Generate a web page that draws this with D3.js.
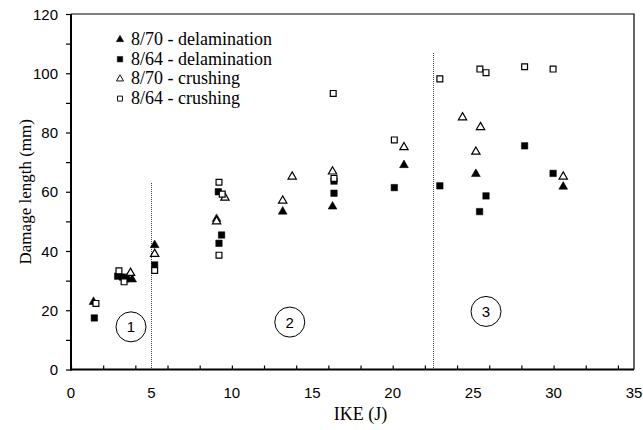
<!DOCTYPE html>
<html>
<head>
<meta charset="utf-8">
<script src="https://cdn.jsdelivr.net/npm/d3@7"></script>
<style>
  body { margin: 0; background: #fff; }
  svg { display: block; }
  .sans { font-family: "Liberation Sans", Arial, sans-serif; }
  .serif { font-family: "Liberation Serif", "Times New Roman", serif; }
</style>
</head>
<body>
<div id="chart-area"></div>
<script>
// DATA (x = IKE in J, y = damage length in mm)
var del70 = [[1.4, 22.8], [3.5, 30.9], [3.8, 30.4], [5.2, 42], [9.05, 50.8], [13.16, 53.3],
             [16.26, 55], [20.7, 69], [25.17, 66], [30.6, 61.7]];
var del64 = [[1.45, 17.4], [2.9, 31.5], [3.2, 31.2], [3.4, 30.6], [5.2, 35.3], [9.16, 60],
             [9.36, 45.4], [9.2, 42.6], [16.35, 63.6], [16.35, 59.5], [20.1, 61.4], [22.93, 62],
             [25.4, 53.3], [25.8, 58.6], [28.2, 75.5], [29.97, 66.2]];
var crush70 = [[3.7, 32.6], [5.2, 39], [9.05, 50], [9.57, 58], [13.16, 57], [13.75, 65.1],
               [16.26, 66.8], [20.7, 75], [24.34, 85.1], [25.17, 73.5], [25.46, 81.8], [30.6, 65.1]];
var crush64 = [[1.55, 22.3], [2.98, 33.3], [3.3, 29.6], [5.2, 33.4], [9.2, 63.2], [9.4, 59.2],
               [9.2, 38.6], [16.35, 64.5], [16.3, 93.2], [20.1, 77.5], [22.93, 98.1], [25.42, 101.4],
               [25.8, 100.2], [28.2, 102.2], [29.97, 101.4]];

var seriesNames = ["8/70 - delamination", "8/64 - delamination", "8/70 - crushing", "8/64 - crushing"];
var xTicks = [0, 5, 10, 15, 20, 25, 30, 35];
var yTicks = [0, 20, 40, 60, 80, 100, 120];

// region boundaries [x, top of line] and region labels [x, y, text]
var boundaries = [[5.0, 63], [22.5, 107]];
var regions = [[3.73, 14.4, "1"], [13.6, 16, "2"], [25.8, 19.6, "3"]];

var margin = { left: 71, right: 9, top: 14, bottom: 60.5 };
var W = 643, H = 430;
var width = W - margin.left - margin.right,
    height = H - margin.top - margin.bottom;

var svg = d3.select("#chart-area")
    .append("svg")
        .attr("width", W)
        .attr("height", H);

var g = svg.append("g")
    .attr("transform", "translate(" + margin.left + "," + margin.top + ")");

// SCALES
var x = d3.scaleLinear().domain([0, 35]).range([0, width]);
var y = d3.scaleLinear().domain([0, 120]).range([height, 0]);

// FRAME (top & right)
g.append("path")
    .attr("d", "M0,0H" + width + "V" + height)
    .attr("fill", "none")
    .attr("stroke", "#000")
    .attr("stroke-width", 1.2);

// DOTTED BOUNDARIES
g.selectAll(".bound")
    .data(boundaries)
    .enter().append("line")
        .attr("x1", function(d) { return Math.round(x(d[0])) + 0.5; })
        .attr("x2", function(d) { return Math.round(x(d[0])) + 0.5; })
        .attr("y1", function(d) { return y(d[1]); })
        .attr("y2", height)
        .attr("stroke", "#444")
        .attr("stroke-width", 1)
        .attr("stroke-dasharray", "1,1")
        .attr("shape-rendering", "crispEdges");

// REGION CIRCLES
var reg = g.selectAll(".region")
    .data(regions)
    .enter().append("g")
        .attr("transform", function(d) { return "translate(" + x(d[0]) + "," + y(d[1]) + ")"; });
reg.append("circle")
    .attr("r", 15)
    .attr("fill", "none")
    .attr("stroke", "#000")
    .attr("stroke-width", 1);
reg.append("text")
    .attr("class", "sans")
    .attr("y", 5.5)
    .attr("text-anchor", "middle")
    .attr("font-size", "15px")
    .text(function(d) { return d[2]; });

// X AXIS
var xAxis = g.append("g")
    .attr("transform", "translate(0," + height + ")")
    .call(d3.axisBottom(x).ticks(14).tickSize(-4).tickFormat(""));
xAxis.select(".domain").remove();
xAxis.selectAll("line").attr("stroke", "#000").attr("stroke-width", 1.2);
g.append("line")
    .attr("x1", -1).attr("x2", width)
    .attr("y1", height).attr("y2", height)
    .attr("stroke", "#000").attr("stroke-width", 2);

g.selectAll(".xlab")
    .data(xTicks)
    .enter().append("text")
        .attr("class", "sans")
        .attr("x", function(d) { return x(d); })
        .attr("y", height + 28)
        .attr("text-anchor", "middle")
        .attr("font-size", "15px")
        .text(function(d) { return d; });

// Y AXIS
var yAxis = g.append("g")
    .call(d3.axisLeft(y).ticks(12).tickSize(5).tickFormat(""));
yAxis.select(".domain").remove();
yAxis.selectAll("line").attr("stroke", "#000").attr("stroke-width", 1.2);
g.append("line")
    .attr("x1", 0).attr("x2", 0)
    .attr("y1", 0).attr("y2", height + 1)
    .attr("stroke", "#000").attr("stroke-width", 2);

g.selectAll(".ylab")
    .data(yTicks)
    .enter().append("text")
        .attr("class", "sans")
        .attr("x", -13)
        .attr("y", function(d) { return y(d) + 5.5; })
        .attr("text-anchor", "end")
        .attr("font-size", "15px")
        .text(function(d) { return d; });

// AXIS TITLES
g.append("text")
    .attr("class", "serif")
    .attr("x", width / 2 + 8)
    .attr("y", height + 50)
    .attr("text-anchor", "middle")
    .attr("font-size", "18px")
    .text("IKE (J)");

g.append("text")
    .attr("class", "serif")
    .attr("transform", "rotate(-90)")
    .attr("x", -height / 2)
    .attr("y", -40)
    .attr("text-anchor", "middle")
    .attr("font-size", "17px")
    .text("Damage length (mm)");

// MARKERS
var tri = d3.symbol().type(d3.symbolTriangle).size(34);
var sqr = d3.symbol().type(d3.symbolSquare).size(42);
var tri2 = d3.symbol().type(d3.symbolTriangle).size(30);
var sqr2 = d3.symbol().type(d3.symbolSquare).size(34);

function drawSeries(data, sym, filled) {
    g.append("g").selectAll("path")
        .data(data)
        .enter().append("path")
            .attr("d", sym)
            .attr("transform", function(d) { return "translate(" + x(d[0]) + "," + y(d[1]) + ")"; })
            .attr("fill", filled ? "#000" : "#fff")
            .attr("stroke", "#000")
            .attr("stroke-width", filled ? 0.5 : 1.2);
}
drawSeries(del70, tri, true);
drawSeries(del64, sqr, true);
drawSeries(crush70, tri2, false);
drawSeries(crush64, sqr2, false);

// LEGEND
var legendSyms = [[tri, true], [sqr, true], [tri2, false], [sqr2, false]];
var legend = svg.append("g")
    .attr("transform", "translate(120,39.5)");
seriesNames.forEach(function(name, i) {
    var row = legend.append("g")
        .attr("transform", "translate(0," + (i * 19.7) + ")");
    row.append("path")
        .attr("d", legendSyms[i][0])
        .attr("fill", legendSyms[i][1] ? "#000" : "#fff")
        .attr("stroke", "#000")
        .attr("stroke-width", legendSyms[i][1] ? 0.5 : 1.1)
        .attr("transform", "scale(0.85)");
    row.append("text")
        .attr("class", "serif")
        .attr("x", 11)
        .attr("y", 5.5)
        .attr("font-size", "18px")
        .text(name);
});
</script>
</body>
</html>
